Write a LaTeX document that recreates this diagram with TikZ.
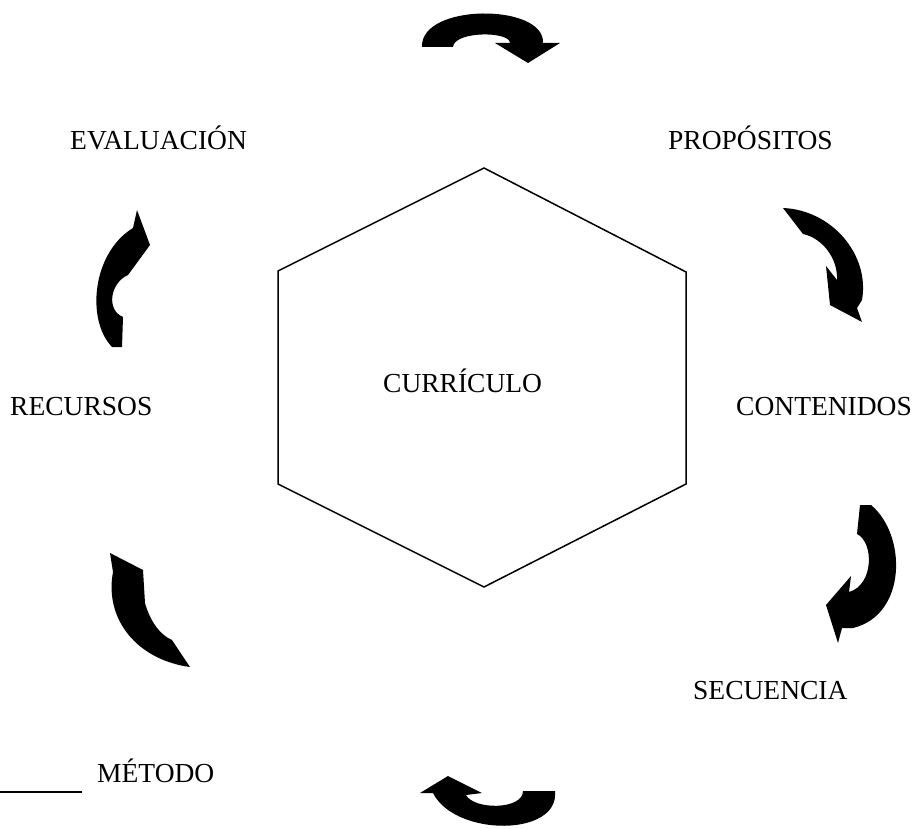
\documentclass[tikz,border=0pt]{standalone}
\usepackage{fontspec}
\setmainfont{Liberation Serif}
\newcommand{\stagefont}{\fontsize{27.5}{33}\selectfont}

\begin{document}
\begin{tikzpicture}[
    x=1pt,
    y=-1pt,
    stage/.style={
        inner sep=0pt,
        anchor=base west,
        font=\stagefont
    },
    turn/.style={
        fill=black
    },
    hexa/.style={
        line width=1.5pt,
        line join=miter
    }
]
\useasboundingbox (0,0) rectangle (913,829);

% Hexagon
\draw[hexa] (484,168) -- (686,272) -- (686,484) -- (484,587) -- (278,484) -- (278,271) -- cycle;
\node[stage] (curriculo) at (383,392) {CURRÍCULO};

% Stages
\node[stage] (evaluacion) at (70,150) {EVALUACIÓN};
\node[stage] (propositos) at (668,150) {PROPÓSITOS};
\node[stage] (recursos) at (10,415) {RECURSOS};
\node[stage] (contenidos) at (736,415) {CONTENIDOS};
\node[stage] (secuencia) at (693,699) {SECUENCIA};
\node[stage] (metodo) at (97,782) {MÉTODO};

% Turning arrows
\fill[turn] (422,47) .. controls (420,3) and (545,3) .. (543,43) -- (560,43) -- (528,63) -- (495,43) -- (510,43) .. controls (510,31) and (454,31) .. (453,47) -- cycle;
\fill[turn] (783,208) .. controls (832,210) and (870,255) .. (862,300) -- (857,308) -- (862,322) -- (830,305) -- (826,266) -- (837,280) .. controls (838,258) and (822,238) .. (803,234) -- cycle;
\fill[turn] (860,505) -- (871,505) .. controls (907,535) and (907,615) .. (853,628) -- (842,628) -- (838,643) -- (826,605) -- (851,576) -- (849,592) .. controls (874,585) and (874,542) .. (857,534) -- cycle;
\fill[turn] (555,791) .. controls (560,837) and (455,837) .. (433,793) -- (420,793) -- (448,776) -- (482,793) -- (466,795) .. controls (474,810) and (523,810) .. (523,791) -- cycle;
\fill[turn] (110,553) -- (143,570) -- (145,603) .. controls (150,621) and (160,635) .. (172,640) -- (190,667) .. controls (138,660) and (104,620) .. (113,572) -- cycle;
\fill[turn] (137,210) -- (150,245) -- (128,275) .. controls (110,283) and (106,310) .. (123,317) -- (122,347) -- (112,347) .. controls (86,320) and (92,253) .. (133,228) -- cycle;

% Rule
\draw[line width=1.5pt] (0,792) -- (82,792);
\end{tikzpicture}
\end{document}
